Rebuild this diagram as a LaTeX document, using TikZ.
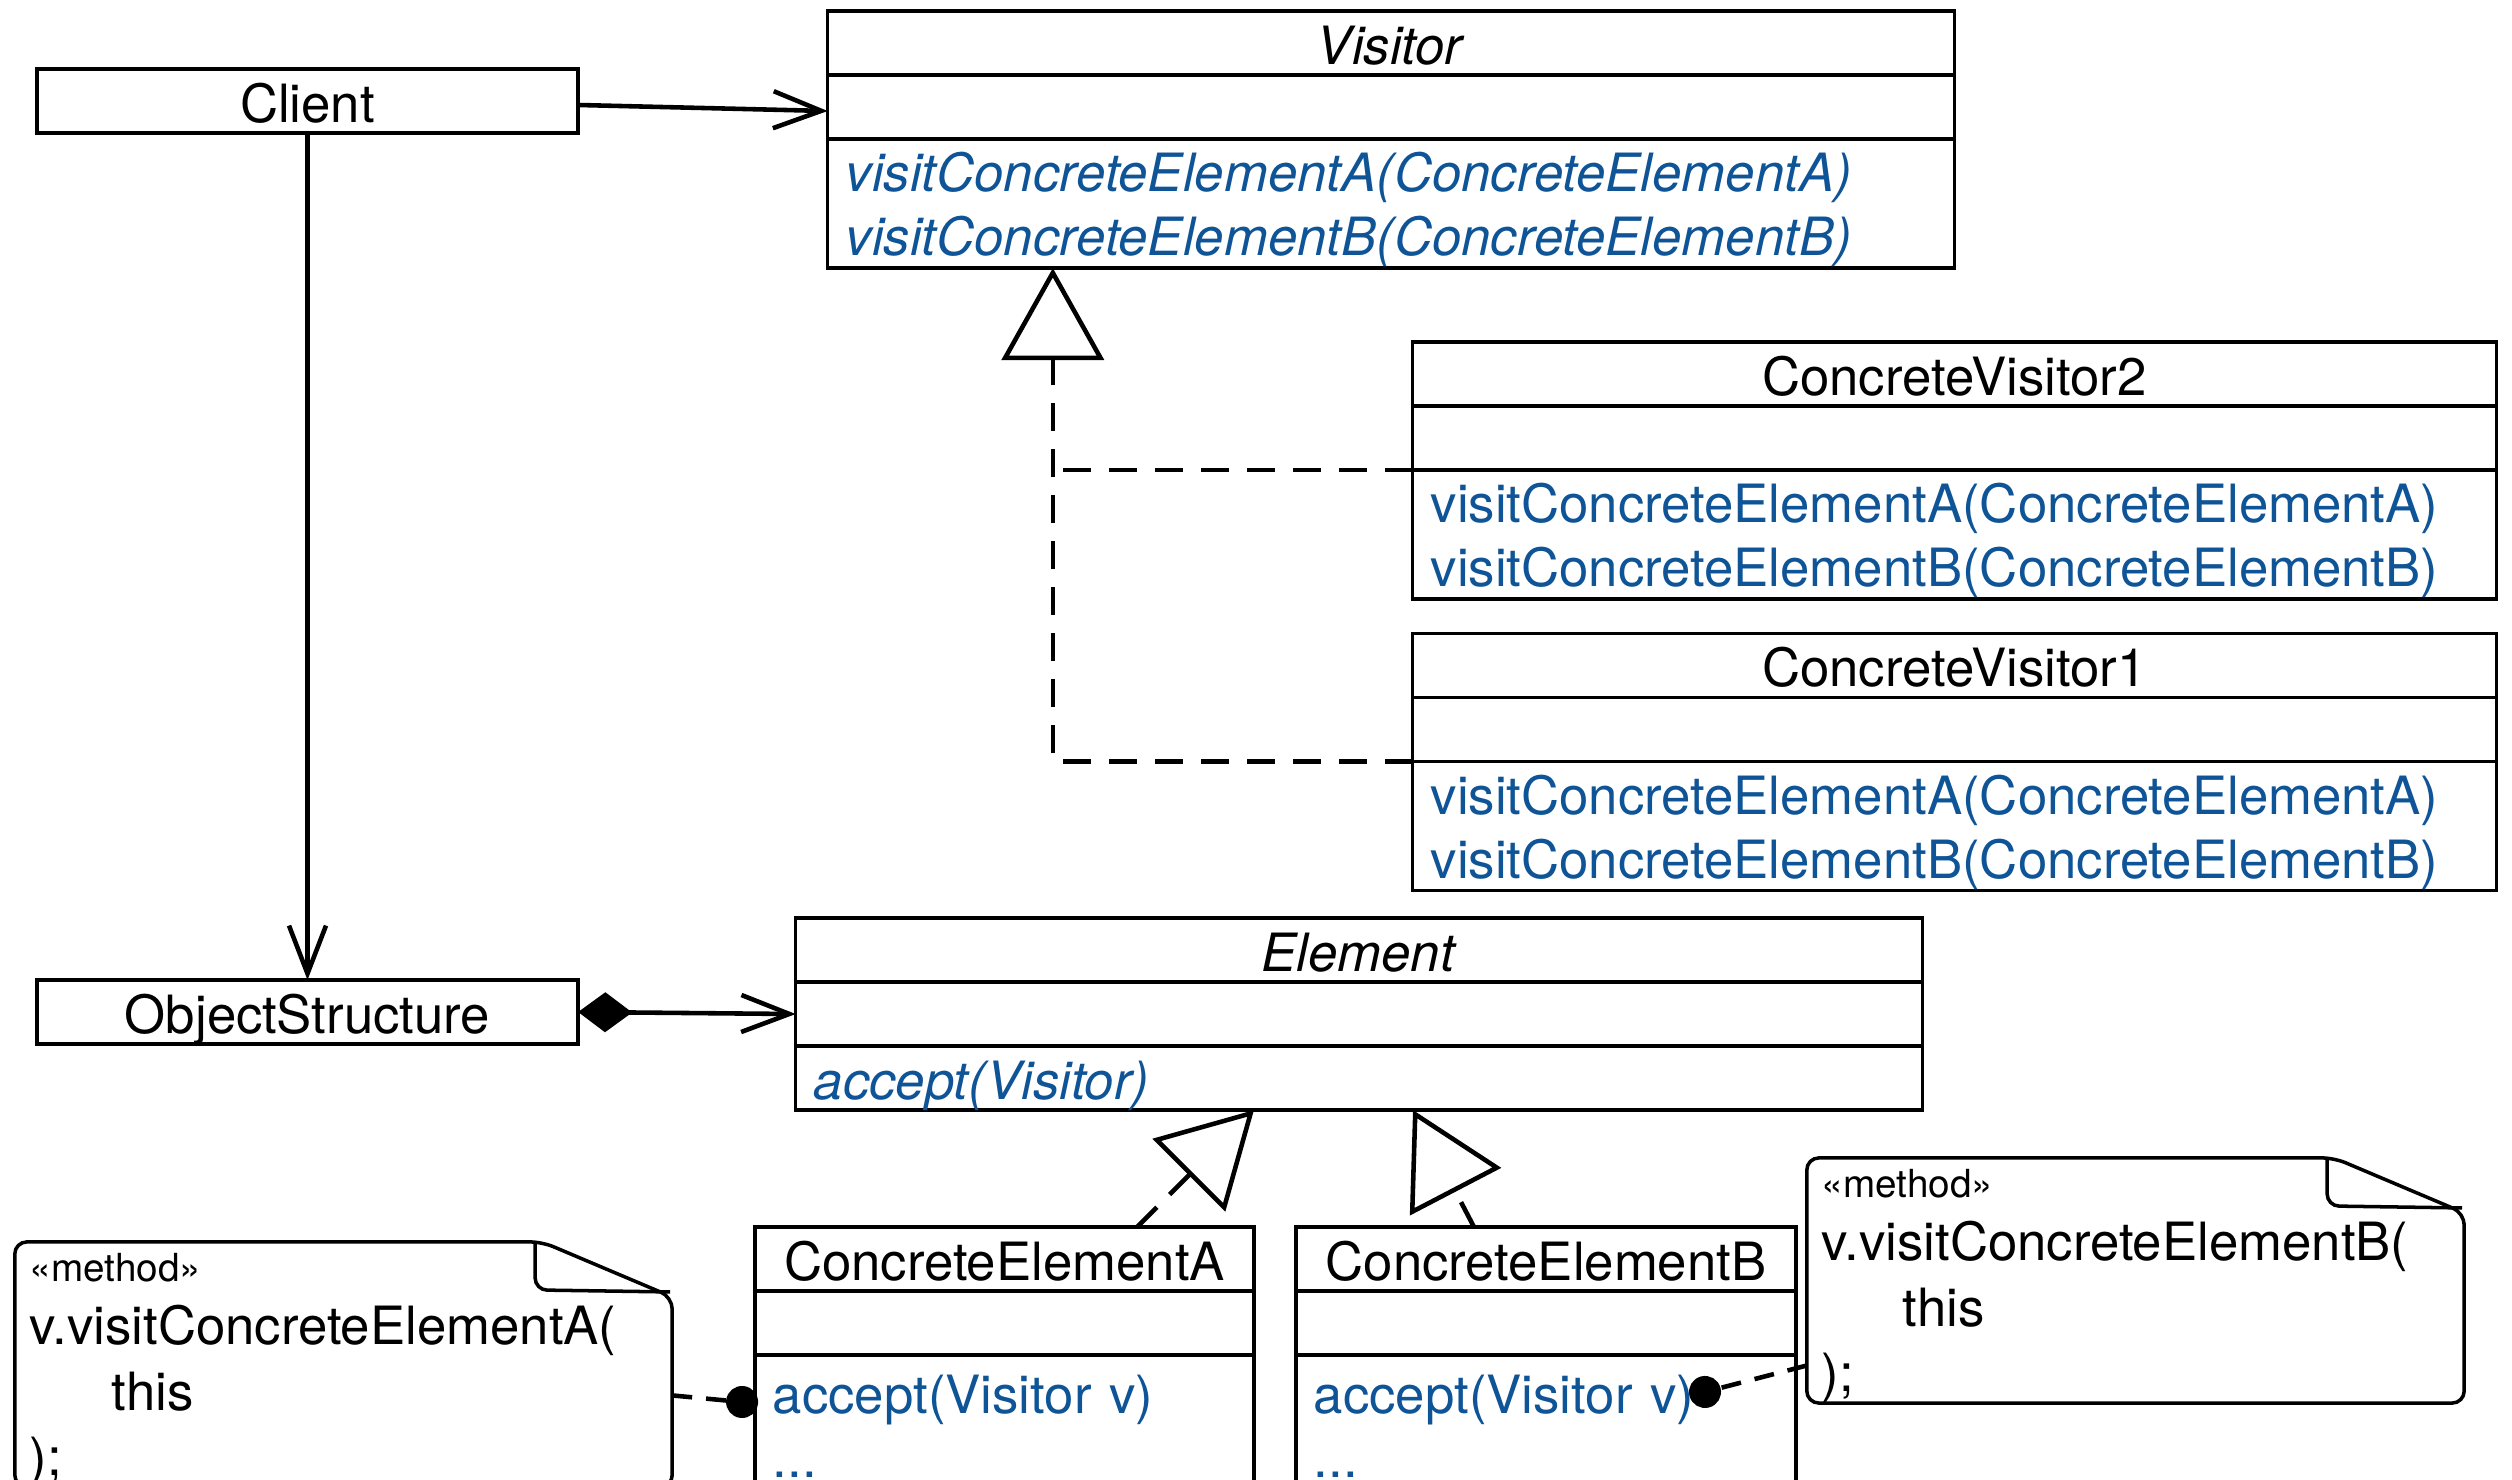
\documentclass[tikz,border=0pt]{standalone}
\usepackage{fontspec}
\setmainfont{TeX Gyre Heros}
\usetikzlibrary{positioning,arrows.meta}
\definecolor{umlblue}{RGB}{14,84,150}
\tikzset{
  cls/.style={draw, line width=1pt, outer sep=0pt, inner sep=0pt, minimum height=0.64cm,
    text height=12.2pt, text depth=0pt, font=\fontsize{15}{18.2}\selectfont},
  ops/.style={cls, text=umlblue, align=left, inner xsep=0.18cm, text width=#1, minimum height=1.29cm,
    text height=, text depth=, execute at begin node={\rule{0pt}{14.6pt}}},
  note/.style={outer sep=0pt, inner xsep=0.15cm, inner ysep=0pt, minimum width=6.57cm, minimum height=2.45cm,
    text width=6.27cm, align=left, font=\fontsize{15}{18.6}\selectfont,
    execute at begin node={\rule{0pt}{11.2pt}}},
  notebox/.style={line width=1pt, rounded corners=0.12cm},
  assoc/.style={line width=1.3pt, -{Straight Barb[length=0.48cm,width=0.37cm]}},
  aggr/.style={line width=1.3pt, {Diamond[length=0.54cm,width=0.4cm]}-{Straight Barb[length=0.48cm,width=0.37cm]}},
  realize/.style={line width=1.3pt, dash pattern=on 0.28cm off 0.18cm, -{Triangle[open,length=0.92cm,width=1.02cm]}},
  dashline/.style={line width=1.3pt, dash pattern=on 0.28cm off 0.18cm},
  link/.style={line width=1.3pt, dash pattern=on 0.2cm off 0.14cm, -{Circle[length=0.32cm]}},
}
\begin{document}
\begin{tikzpicture}[x=0.01cm, y=-0.01cm]
  \useasboundingbox (0,0) rectangle (2512,1480);
  \clip (0,0) rectangle (2512,1480);

  % client and object structure
  \node [cls, minimum width=5.41cm] (client) at (307.5,101) {Client};
  \node [cls, minimum width=5.41cm] (os) at (307.5,1012) {ObjectStructure};

  % visitor
  \node [cls, minimum width=11.26cm] (vis) at (1391,43) {\textit{Visitor}};
  \node [cls, minimum width=11.26cm, below=0pt of vis] (visA) {};
  \node [ops=10.9cm, below=0pt of visA] (visM) {\textit{visitConcreteElementA(ConcreteElementA)}\\
    \textit{visitConcreteElementB(ConcreteElementB)}};

  % concrete visitors
  \node [cls, minimum width=10.83cm] (cv2) at (1954.5,374) {ConcreteVisitor2};
  \node [cls, minimum width=10.83cm, below=0pt of cv2] (cv2A) {};
  \node [ops=10.47cm, below=0pt of cv2A] (cv2M) {visitConcreteElementA(ConcreteElementA)\\
    visitConcreteElementB(ConcreteElementB)};
  \node [cls, minimum width=10.83cm] (cv1) at (1954.5,665.5) {ConcreteVisitor1};
  \node [cls, minimum width=10.83cm, below=0pt of cv1] (cv1A) {};
  \node [ops=10.47cm, below=0pt of cv1A] (cv1M) {visitConcreteElementA(ConcreteElementA)\\
    visitConcreteElementB(ConcreteElementB)};

  % element
  \node [cls, minimum width=11.26cm] (el) at (1359,950) {\textit{Element}};
  \node [cls, minimum width=11.26cm, below=0pt of el] (elA) {};
  \node [ops=10.9cm, minimum height=0.64cm, text height=12.2pt, text depth=0pt,
    execute at begin node={}, below=0pt of elA] (elM) {\textit{accept(Visitor)}};

  % concrete elements
  \node [cls, minimum width=4.99cm] (cea) at (1004.5,1259) {ConcreteElementA};
  \node [cls, minimum width=4.99cm, below=0pt of cea] (ceaA) {};
  \node [ops=4.63cm, below=0pt of ceaA] (ceaM) {accept(Visitor v)\\ ...};
  \node [cls, minimum width=5cm] (ceb) at (1546,1259) {ConcreteElementB};
  \node [cls, minimum width=5cm, below=0pt of ceb] (cebA) {};
  \node [ops=4.64cm, below=0pt of cebA] (cebM) {accept(Visitor v)\\ ...};

  % method notes
  \node [note] (noteA) at (343.5,1364.5) {{\fontsize{11}{13}\selectfont «method»}\\[-0.6pt]
    v.visitConcreteElementA(\\ \hspace*{0.82cm}this\\ );};
  \node [note] (noteB) at (2135.5,1280.5) {{\fontsize{11}{13}\selectfont «method»}\\[-0.6pt]
    v.visitConcreteElementB(\\ \hspace*{0.81cm}this\\ );};
  \foreach \n in {noteA,noteB} {
    \draw [notebox] (\n.north west) -- ([xshift=-1.3cm]\n.north east)
      -- ([yshift=-0.55cm]\n.north east) -- (\n.south east) -- (\n.south west) -- cycle;
    \draw [notebox] ([xshift=-1.37cm]\n.north east) -- ([xshift=-1.37cm,yshift=-0.48cm]\n.north east)
      -- ([xshift=-0.02cm,yshift=-0.5cm]\n.north east);
  }

  % connectors
  \draw [assoc] ([yshift=-0.04cm]client.east) -- ([yshift=-0.04cm]visA.west);
  \draw [assoc] (client.south) -- (os.north);
  \draw [aggr] (os.east) -- (elA.west);

  \coordinate (vtip) at ([xshift=2.25cm]visM.south west);
  \draw [realize] (cv1A.south west) -| (vtip);
  \draw [dashline] (cv2A.south west) -- (cv2A.south west -| vtip);

  \coordinate (ceaS) at ([xshift=3.82cm]cea.north west);
  \coordinate (ceaTip) at ([xshift=4.58cm]elM.south west);
  \coordinate (cebS) at ([xshift=1.78cm]ceb.north west);
  \coordinate (cebTip) at ([xshift=6.17cm]elM.south west);
  \draw [realize] (ceaS) -- (ceaTip);
  \draw [realize] (cebS) -- (cebTip);

  \coordinate (dotA) at (758,1403.5);
  \coordinate (dotB) at (1689.5,1396);
  \draw [link] (noteA) -- (dotA);
  \draw [link] (noteB) -- (dotB);
\end{tikzpicture}
\end{document}
